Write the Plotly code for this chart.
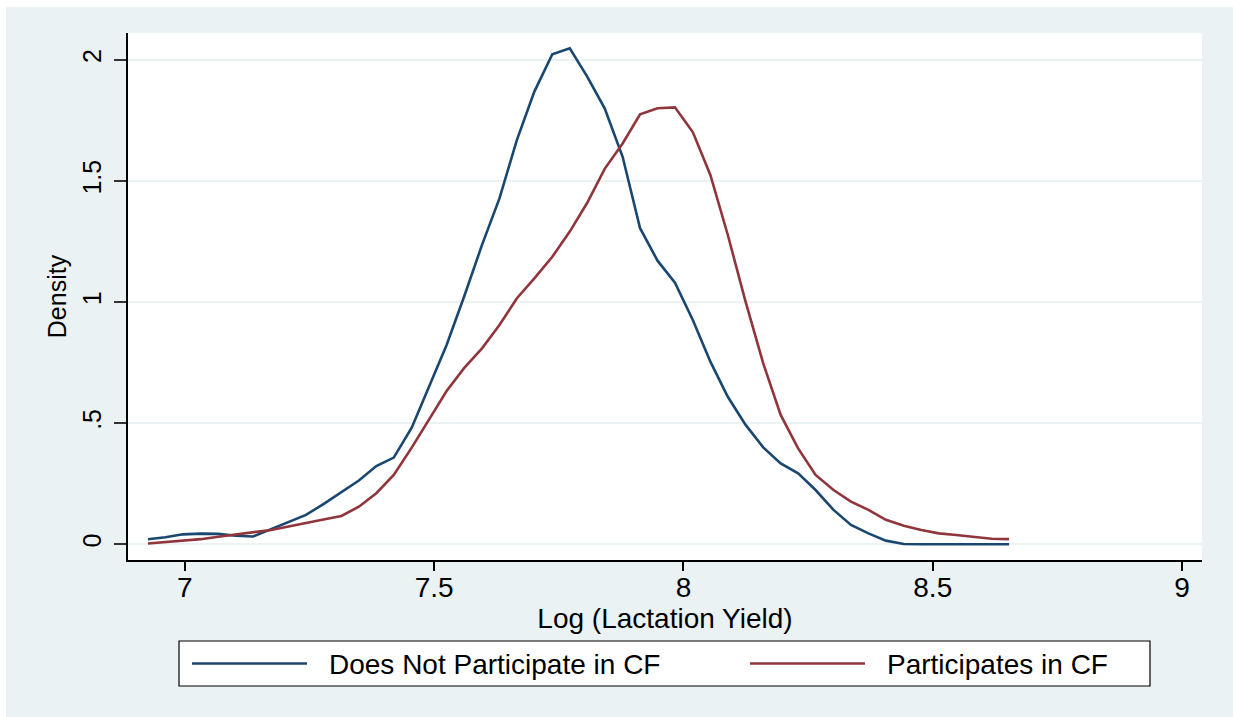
import plotly.graph_objects as go

# evaluation points (log lactation yield)
x_vals = [6.926, 6.961, 6.996, 7.032, 7.067, 7.102, 7.137, 7.173, 7.208, 7.243,
          7.278, 7.314, 7.349, 7.384, 7.419, 7.455, 7.490, 7.525, 7.560, 7.596,
          7.631, 7.666, 7.701, 7.737, 7.772, 7.807, 7.842, 7.878, 7.913, 7.948,
          7.983, 8.019, 8.054, 8.089, 8.124, 8.160, 8.195, 8.230, 8.265, 8.301,
          8.336, 8.371, 8.406, 8.442, 8.477, 8.512, 8.547, 8.583, 8.618, 8.653]

# density, does not participate in CF
dens_no_cf = [0.021, 0.029, 0.041, 0.044, 0.043, 0.035, 0.032, 0.062, 0.093, 0.121,
              0.166, 0.215, 0.263, 0.323, 0.358, 0.481, 0.650, 0.823, 1.022, 1.236,
              1.428, 1.670, 1.869, 2.023, 2.048, 1.931, 1.800, 1.600, 1.305, 1.171,
              1.080, 0.925, 0.754, 0.609, 0.495, 0.400, 0.334, 0.293, 0.224, 0.142,
              0.080, 0.045, 0.015, 0.001, 0.000, 0.000, 0.000, 0.000, 0.000, 0.000]

# density, participates in CF
dens_cf = [0.003, 0.008, 0.014, 0.021, 0.031, 0.040, 0.048, 0.059, 0.073, 0.089,
           0.102, 0.117, 0.155, 0.211, 0.286, 0.399, 0.516, 0.633, 0.727, 0.809,
           0.905, 1.016, 1.098, 1.187, 1.291, 1.410, 1.550, 1.655, 1.775, 1.800,
           1.804, 1.701, 1.525, 1.277, 1.006, 0.747, 0.534, 0.396, 0.286, 0.224,
           0.176, 0.142, 0.101, 0.076, 0.059, 0.045, 0.038, 0.030, 0.023, 0.021]

series_names = ["Does Not Participate in CF", "Participates in CF"]
x_tickvals = [7, 7.5, 8, 8.5, 9]
x_ticktext = ["7", "7.5", "8", "8.5", "9"]
y_tickvals = [0, 0.5, 1, 1.5, 2]
y_ticktext = ["0", ".5", "1", "1.5", "2"]

BLUE = "#1a476f"
RED = "#90353b"
BG = "#eaf2f3"
FONT = "Liberation Sans, Arial, sans-serif"

W, H = 1233, 717
L, R, T, B = 128, 31, 33, 157
PW, PH = W - L - R, H - T - B


def px(xp):
    return (xp - L) / PW


def py(yp):
    return (H - B - yp) / PH


fig = go.Figure()
fig.add_trace(go.Scatter(x=x_vals, y=dens_no_cf, mode="lines", name=series_names[0],
                         line=dict(color=BLUE, width=2.6), showlegend=False))
fig.add_trace(go.Scatter(x=x_vals, y=dens_cf, mode="lines", name=series_names[1],
                         line=dict(color=RED, width=2.6), showlegend=False))

shapes = []
annotations = []
# custom legend box
shapes.append(dict(type="rect", xref="paper", yref="paper",
                   x0=px(179), x1=px(1150), y0=py(686), y1=py(641),
                   line=dict(color="#000000", width=1.2), fillcolor="white", layer="above"))
leg_items = [(192, 307, 327, BLUE, series_names[0]), (750, 865, 885, RED, series_names[1])]
for x0, x1, tx, col, name in leg_items:
    shapes.append(dict(type="line", xref="paper", yref="paper",
                       x0=px(x0), x1=px(x1), y0=py(663.5), y1=py(663.5),
                       line=dict(color=col, width=2.6), layer="above"))
    annotations.append(dict(xref="paper", yref="paper", x=px(tx), y=py(664),
                            xanchor="left", yanchor="middle", text=name, showarrow=False,
                            font=dict(family=FONT, size=28, color="black")))
# thin white margins at left and top of the image
shapes.append(dict(type="rect", xref="paper", yref="paper", x0=px(-2), x1=px(6),
                   y0=py(H + 2), y1=py(-2), line=dict(width=0), fillcolor="white", layer="above"))
shapes.append(dict(type="rect", xref="paper", yref="paper", x0=px(-2), x1=px(W + 2),
                   y0=py(7), y1=py(-2), line=dict(width=0), fillcolor="white", layer="above"))

fig.update_layout(
    width=W, height=H,
    margin=dict(l=L, r=R, t=T, b=B, pad=0),
    paper_bgcolor=BG, plot_bgcolor="white",
    showlegend=False,
    shapes=shapes, annotations=annotations,
    font=dict(family=FONT, color="black"),
)
fig.update_xaxes(range=[6.886, 9.040], tickvals=x_tickvals, ticktext=x_ticktext,
                 showgrid=False, zeroline=False, showline=True, linecolor="black", linewidth=1.5,
                 ticks="outside", ticklen=9, tickwidth=1.5, tickcolor="black",
                 ticklabelstandoff=-7,
                 tickfont=dict(family=FONT, size=28, color="black"),
                 title=dict(text="Log (Lactation Yield)", font=dict(family=FONT, size=28, color="black"),
                            standoff=0))
fig.update_yaxes(range=[-0.065, 2.111], tickvals=y_tickvals, ticktext=y_ticktext,
                 showgrid=True, gridcolor=BG, gridwidth=2, zeroline=False,
                 showline=True, linecolor="black", linewidth=1.5,
                 ticks="outside", ticklen=12, tickwidth=1.5, tickcolor="#333333",
                 tickangle=-90, ticklabelstandoff=3,
                 tickfont=dict(family=FONT, size=25, color="black"),
                 title=dict(text="Density", font=dict(family=FONT, size=25, color="black"),
                            standoff=5))

fig.write_html("out.html", config={"displayModeBar": False},
               post_script="document.body.style.margin='0';document.body.style.overflow='hidden';")
